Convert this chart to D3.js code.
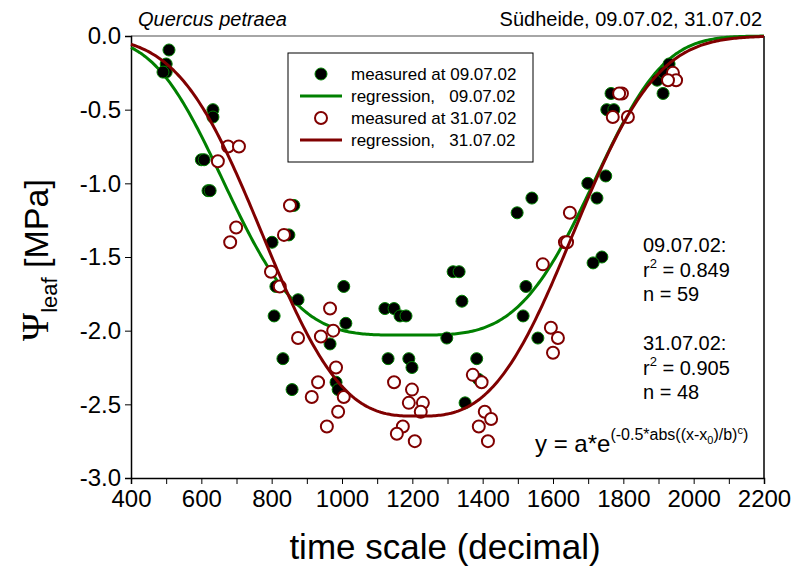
<!DOCTYPE html>
<html>
<head>
<meta charset="utf-8">
<script src="https://cdn.jsdelivr.net/npm/d3@7"></script>
<style>
  body { margin: 0; background: #fff; }
  svg text { font-family: "Liberation Sans", Arial, sans-serif; fill: #000; }
  .axis text { font-size: 24px; }
  .axis path, .axis line { stroke: #000; }
</style>
</head>
<body>
<div id="chart"></div>
<script>
// data
const xTicks = [400, 600, 800, 1000, 1200, 1400, 1600, 1800, 2000, 2200];
const yTicks = [0, -0.5, -1.0, -1.5, -2.0, -2.5, -3.0];

// measured at 09.07.02 (filled)
const julyX9 = [508, 500, 500, 491, 633, 633, 600, 608, 619, 625,
  863, 849, 801, 812, 875, 1005, 807, 1011, 966, 832, 858, 983, 989,
  1540, 1498, 1316, 1333, 1523, 1341, 1122, 1148, 1165, 1182, 1515, 1298, 1557,
  1131, 1190, 1383, 1199, 1350, 1388,
  1725, 1739, 1714, 1765, 1753, 1773, 1699, 1750, 1930, 1896, 1913, 1915];
const julyY9 = [-0.095, -0.19, -0.245, -0.245, -0.50, -0.55, -0.84, -0.84, -1.05, -1.05,
  -1.15, -1.35, -1.40, -1.70, -1.79, -1.70, -1.90, -1.95, -2.09, -2.19, -2.40, -2.35, -2.40,
  -1.10, -1.20, -1.60, -1.60, -1.70, -1.80, -1.85, -1.85, -1.90, -1.90, -1.90, -2.05, -2.05,
  -2.19, -2.19, -2.19, -2.25, -2.49, -2.33,
  -1.10, -1.50, -1.54, -0.39, -0.50, -0.50, -1.00, -0.95, -0.19, -0.30, -0.39, -0.25];

// measured at 31.07.02 (open)
const julyX31 = [852, 835, 823, 699, 682, 798, 966, 975, 940, 875, 676, 707, 647,
  983, 932, 914, 1005, 989, 957, 1571, 1148, 1199, 1190, 1230, 1224, 1173, 1156, 1207,
  1372, 1397, 1406, 1424, 1389, 1415, 1648, 1634, 1640, 1594, 1614, 1600,
  1796, 1788, 1770, 1813, 1941, 1950, 1927];
const julyY31 = [-1.15, -1.35, -1.70, -1.30, -1.40, -1.60, -1.85, -2.00, -2.04, -2.05, -0.75, -0.75, -0.85,
  -2.25, -2.35, -2.45, -2.45, -2.55, -2.65, -1.55, -2.35, -2.40, -2.49, -2.49, -2.55, -2.65, -2.70, -2.75,
  -2.30, -2.35, -2.55, -2.60, -2.65, -2.75, -1.20, -1.40, -1.40, -1.98, -2.05, -2.15,
  -0.39, -0.39, -0.55, -0.55, -0.25, -0.30, -0.30];

// regression parameters a, x0, b, c
const fit9 = [-2.03, 1190, 478, 3.73];
const fit31 = [-2.58, 1215, 403, 2.89];

const green = "#008000", darkred = "#800000";

const margin = { top: 36, right: 31, bottom: 91, left: 131 },
  width = 795, height = 569;

const x = d3.scaleLinear().domain([400, 2200]).range([margin.left, width - margin.right]);
const y = d3.scaleLinear().domain([-3, 0]).range([height - margin.bottom, margin.top]);

const svg = d3.select("#chart").append("svg")
  .attr("width", width).attr("height", height);

function curve(p) {
  const [a, x0, b, c] = p;
  return d3.range(400, 2201, 5).map(t => [t, a * Math.exp(-0.5 * Math.pow(Math.abs((t - x0) / b), c))]);
}
const line = d3.line().x(d => x(d[0])).y(d => y(d[1]));

// frame: top (grey) and right
svg.append("line").attr("x1", x(400)).attr("x2", x(2200)).attr("y1", y(0)).attr("y2", y(0))
  .attr("stroke", "#888").attr("stroke-width", 1.5);
svg.append("line").attr("x1", x(2200)).attr("x2", x(2200)).attr("y1", y(0)).attr("y2", y(-3))
  .attr("stroke", "#000").attr("stroke-width", 1.5);

// axes
svg.append("g").attr("class", "axis")
  .attr("transform", `translate(0,${y(-3)})`)
  .call(d3.axisBottom(x).tickValues(d3.range(400, 2201, 100)).tickSize(6).tickPadding(6)
    .tickFormat(d => xTicks.includes(d) ? d : ""))
  .call(g => g.select(".domain").attr("stroke-width", 1.5));
svg.append("g").attr("class", "axis")
  .attr("transform", `translate(${x(400)},0)`)
  .call(d3.axisLeft(y).tickValues(yTicks).tickSize(6).tickPadding(4))
  .call(g => g.select(".domain").attr("stroke-width", 1.5))
  .call(g => g.selectAll("text").text(d => d3.format(".1f")(d).replace("−", "-")));

// plotted marks
const plot = svg.append("g");
plot.append("path").datum(curve(fit9)).attr("d", line)
  .attr("fill", "none").attr("stroke", green).attr("stroke-width", 3);

plot.selectAll(".m9").data(julyX9.map((d, i) => [d, julyY9[i]])).join("circle")
  .attr("class", "m9")
  .attr("cx", d => x(d[0])).attr("cy", d => y(d[1])).attr("r", 6)
  .attr("fill", "#000").attr("stroke", green).attr("stroke-width", 1);

plot.selectAll(".m31").data(julyX31.map((d, i) => [d, julyY31[i]])).join("circle")
  .attr("class", "m31")
  .attr("cx", d => x(d[0])).attr("cy", d => y(d[1])).attr("r", 6)
  .attr("fill", "#fff").attr("stroke", darkred).attr("stroke-width", 2);

plot.append("path").datum(curve(fit31)).attr("d", line)
  .attr("fill", "none").attr("stroke", darkred).attr("stroke-width", 3);

// titles
svg.append("text").attr("x", 138).attr("y", 26).attr("font-size", 20)
  .attr("font-style", "italic").text("Quercus petraea");
svg.append("text").attr("x", 762).attr("y", 26).attr("font-size", 20)
  .attr("text-anchor", "end").text("Südheide, 09.07.02, 31.07.02");

// axis titles
svg.append("text").attr("x", 445).attr("y", 559).attr("font-size", 35)
  .attr("text-anchor", "middle").text("time scale (decimal)");

const yl = svg.append("text").attr("transform", "translate(48,260) rotate(-90)")
  .attr("text-anchor", "middle").attr("font-size", 34);
yl.append("tspan").attr("font-family", "'Liberation Serif', 'DejaVu Serif', serif")
  .attr("font-size", 38).text("Ψ");
yl.append("tspan").attr("font-size", 22).attr("dy", 9).text("leaf");
yl.append("tspan").attr("dy", -9).text(" [MPa]");

// legend
const legend = svg.append("g");
legend.append("rect").attr("x", 288).attr("y", 53).attr("width", 245).attr("height", 109)
  .attr("fill", "#fff").attr("stroke", "#000").attr("stroke-width", 1);
const legendRows = [
  ["dot", "measured at 09.07.02"],
  ["g", "regression,   09.07.02"],
  ["open", "measured at 31.07.02"],
  ["r", "regression,   31.07.02"]
];
legendRows.forEach((r, i) => {
  const cy = 74 + i * 22;
  if (r[0] === "dot") legend.append("circle").attr("cx", 321).attr("cy", cy).attr("r", 6)
    .attr("fill", "#000").attr("stroke", green);
  if (r[0] === "open") legend.append("circle").attr("cx", 321).attr("cy", cy).attr("r", 6)
    .attr("fill", "#fff").attr("stroke", darkred).attr("stroke-width", 2);
  if (r[0] === "g" || r[0] === "r") legend.append("line").attr("x1", 300).attr("x2", 342)
    .attr("y1", cy).attr("y2", cy).attr("stroke-width", 3)
    .attr("stroke", r[0] === "g" ? green : darkred);
  legend.append("text").attr("x", 351).attr("y", cy + 6).attr("font-size", 17)
    .style("white-space", "pre").text(r[1]);
});

// statistics
const stats = [
  ["09.07.02:", "0.849", "n = 59", 252],
  ["31.07.02:", "0.905", "n = 48", 350]
];
stats.forEach(s => {
  svg.append("text").attr("x", 643).attr("y", s[3]).attr("font-size", 20).text(s[0]);
  const r2 = svg.append("text").attr("x", 643).attr("y", s[3] + 25).attr("font-size", 20);
  r2.append("tspan").text("r");
  r2.append("tspan").attr("font-size", 13).attr("dy", -9).text("2");
  r2.append("tspan").attr("dy", 9).text(" = " + s[1]);
  svg.append("text").attr("x", 643).attr("y", s[3] + 49).attr("font-size", 20).text(s[2]);
});

// formula
const f = svg.append("text").attr("x", 535).attr("y", 452).attr("font-size", 24);
f.append("tspan").text("y = a*e");
f.append("tspan").attr("font-size", 16).attr("dy", -12).text("(-0.5*abs((x-x");
f.append("tspan").attr("font-size", 11).attr("dy", 4).text("0");
f.append("tspan").attr("font-size", 16).attr("dy", -4).text(")/b)");
f.append("tspan").attr("font-size", 11).attr("dy", -6).text("c");
f.append("tspan").attr("font-size", 16).attr("dy", 6).text(")");
</script>
</body>
</html>
